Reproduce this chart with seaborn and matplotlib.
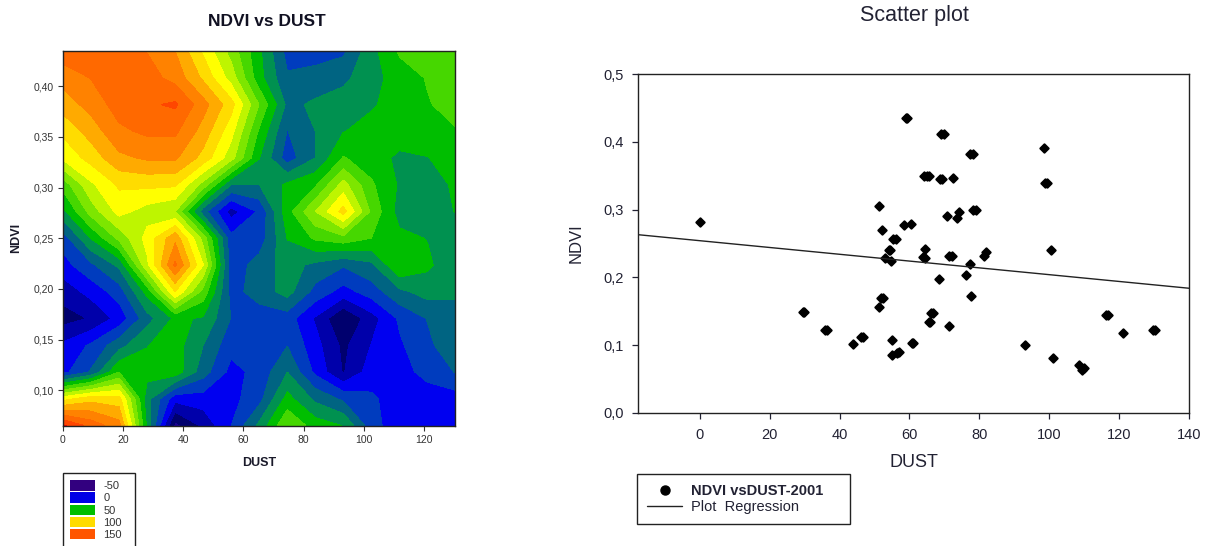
import numpy as np
import pandas as pd
import matplotlib
matplotlib.use('Agg')
import matplotlib.pyplot as plt
from matplotlib.patches import Patch
from matplotlib.lines import Line2D
import seaborn as sns

# --- Contour data, one list per NDVI row (bottom to top) ---
dust_nodes = np.linspace(0, 130.5, 15)
ndvi_nodes = np.linspace(0.0655, 0.4345, 15)
row_01 = [165, 145, 130, 35, -42, -22, 0, 28, 62, 44, 37, 5, -8, -12, -10]
row_02 = [95, 108, 105, 30, -8, -6, -4, 8, 42, 22, 10, 2, -6, -8, -6]
row_03 = [-4, 14, 50, 42, 45, 18, -4, 4, 25, -3, -26, -6, -6, 5, 13]
row_04 = [-10, 2, 20, 37, 43, 25, 4, 6, 12, -8, -28, -12, -2, 10, 20]
row_05 = [-30, -24, -8, 20, 40, 36, 12, 6, 6, -14, -38, -18, 2, 13, 20]
row_06 = [-20, -8, 6, 42, 100, 58, 8, 18, 30, 8, -5, 6, 22, 30, 27]
row_07 = [-5, 10, 28, 85, 140, 88, 5, 18, 30, 22, 14, 22, 50, 40, 28]
row_08 = [6, 38, 66, 92, 122, 70, 4, 5, 38, 52, 58, 50, 41, 37, 30]
row_09 = [34, 68, 92, 82, 75, 18, -18, 2, 45, 75, 105, 60, 32, 30, 38]
row_10 = [55, 85, 102, 103, 102, 70, 25, 25, 40, 48, 80, 52, 36, 30, 40]
row_11 = [90, 105, 122, 127, 127, 108, 80, 38, 6, 25, 51, 43, 35, 37, 44]
row_12 = [103, 118, 135, 140, 140, 120, 92, 48, 12, 25, 37, 42, 44, 46, 49]
row_13 = [118, 130, 143, 148, 152, 130, 105, 62, 22, 27, 31, 36, 43, 49, 55]
row_14 = [130, 138, 143, 143, 133, 110, 82, 42, 14, 18, 22, 33, 43, 51, 56]
row_15 = [145, 145, 145, 137, 125, 98, 70, 40, 8, 6, 10, 33, 52, 56, 58]

contour_levels = [-62.5, -50, -37.5, -25, -12.5, 0, 12.5, 25, 37.5, 50, 62.5, 75,
                  87.5, 100, 112.5, 125, 137.5, 150, 162.5, 175]
band_colors = ['#2d0082', '#1a0090', '#00006e', '#0000aa', '#0000f0', '#003cbe',
               '#006482', '#009150', '#00be00', '#46d700', '#7de600', '#bef500',
               '#ffff00', '#ffdc00', '#ffaa00', '#ff8200', '#ff6900', '#ff4600', '#ff0000']

# trailing spaces in the last label widen the box, the blank row runs off the image
legend_labels = ['-50', '0', '50', '100', '150', ' ' * 8]
legend_colors = ['#32007f', '#0000e6', '#00be00', '#ffdc00', '#ff5500', 'white']

# --- Scatter data ---
dust = [0, 29.4, 29.8, 35.7, 36.4, 43.7, 46.2, 46.8, 51.2, 51.9, 52.4, 51.2, 52.1, 54, 54.4, 53, 54.7, 55.2, 56, 55, 55,
        56.3, 57, 60.7, 61.1, 59, 59.4, 58.3, 60.5, 64.1, 65, 65.6, 68.7, 69.3, 72.5, 69, 69.9, 77.2, 78.2, 98.5,
        98.8, 99.5, 78.3, 79.1, 74.2, 73.5, 70.8, 64.4, 64, 64.3, 71.4, 72.2, 81.9, 81.4, 100.6, 77.2,
        76.3, 68.4, 77.6, 66.3, 66.8, 65.5, 66, 71.4, 93, 101, 108.5, 109.4, 109.9, 116.3, 116.9, 121, 129.7, 130.3]
ndvi = [.281, .149, .149, .123, .123, .102, .112, .112, .156, .170, .170, .305, .270, .241, .241, .228, .224, .257, .257, .107, .085,
        .088, .090, .103, .103, .435, .435, .277, .279, .349, .349, .349, .345, .345, .347, .411, .411, .382, .382, .391,
        .339, .339, .300, .300, .297, .287, .291, .242, .230, .228, .231, .231, .238, .232, .240, .220,
        .203, .197, .172, .147, .147, .134, .134, .129, .100, .081, .071, .064, .066, .144, .144, .118, .122, .122]

reg_x = [-17.7, 140]
reg_y = [0.263, 0.184]

sns.set_theme(style='ticks')
plt.rcParams['font.family'] = ['Liberation Sans', 'DejaVu Sans']

W, H = 1206, 546
fig = plt.figure(figsize=(W / 100, H / 100), dpi=100)

def add_axes_px(left, top, right, bottom):
    return fig.add_axes([left / W, 1 - bottom / H, (right - left) / W, (bottom - top) / H])

# --- Left: filled contour ---
ax1 = add_axes_px(63, 51, 455.5, 425.5)
grid = np.array([row_01, row_02, row_03, row_04, row_05, row_06, row_07, row_08,
                 row_09, row_10, row_11, row_12, row_13, row_14, row_15])
ax1.contourf(dust_nodes, ndvi_nodes, grid, levels=contour_levels, colors=band_colors)
ax1.set_xlim(0, 130.5)
ax1.set_ylim(0.0655, 0.4345)
ax1.set_xticks(range(0, 121, 20))
ax1.set_yticks([0.10, 0.15, 0.20, 0.25, 0.30, 0.35, 0.40])
ax1.set_yticklabels(['0,10', '0,15', '0,20', '0,25', '0,30', '0,35', '0,40'])
ax1.tick_params(labelsize=7.5, length=3.5, width=0.8, pad=3, colors='#333333')
ax1.set_xlabel('DUST', fontsize=9, fontweight='bold', labelpad=9, color='#1a1a2a')
ax1.set_ylabel('NDVI', fontsize=9, fontweight='bold', labelpad=8, color='#1a1a2a')
fig.text(267 / W, 1 - 21 / H, 'NDVI vs DUST', fontsize=12.5, fontweight='bold', ha='center', va='center', color='#111122')
for s in ax1.spines.values():
    s.set_visible(True)
    s.set_linewidth(1.0)
    s.set_color('#222222')

handles1 = [Patch(facecolor=c, edgecolor='none') for c in legend_colors]
fig.legend(handles1, legend_labels, loc='upper left', bbox_to_anchor=(63 / W, 1 - 473 / H),
           bbox_transform=fig.transFigure, fontsize=8, frameon=True, fancybox=False,
           edgecolor='#222222', framealpha=1, borderaxespad=0, borderpad=0.65,
           handlelength=2.25, handleheight=1.08, handletextpad=0.72, labelspacing=0.1,
           labelcolor='#333333')

# --- Right: scatter with regression line ---
ax2 = add_axes_px(638, 74, 1189, 413)
scatter_df = pd.DataFrame({'dust': dust, 'ndvi': ndvi})
sns.scatterplot(data=scatter_df, x='dust', y='ndvi', ax=ax2, marker='D', s=18,
                color='black', edgecolor='black', linewidth=1.5, joinstyle='round')
sns.lineplot(x=reg_x, y=reg_y, ax=ax2, color='#222222', linewidth=1.0)
ax2.set_xlim(-17.7, 140)
ax2.set_ylim(0, 0.5)
ax2.set_xticks(range(0, 141, 20))
ax2.set_yticks([0, 0.1, 0.2, 0.3, 0.4, 0.5])
ax2.set_yticklabels(['0,0', '0,1', '0,2', '0,3', '0,4', '0,5'])
ax2.tick_params(labelsize=10.5, length=4.5, width=0.9, pad=6, colors='#222233')
ax2.set_xlabel('DUST', fontsize=13, labelpad=9, color='#222233')
ax2.set_ylabel('NDVI', fontsize=12, color='#222233')
ax2.yaxis.set_label_coords((584 - 638) / 551, (413 - 243.5) / 339)
fig.text(914 / W, 1 - 15 / H, 'Scatter plot', fontsize=15.5, ha='center', va='center', color='#222233')
for s in ax2.spines.values():
    s.set_visible(True)
    s.set_linewidth(1.0)
    s.set_color('#222222')

handles2 = [Line2D([], [], marker='o', color='black', linestyle='none', markersize=6.5),
            Line2D([], [], color='#222222', linewidth=1.0)]
leg = fig.legend(handles2, ['NDVI vsDUST-2001    ', 'Plot  Regression'], loc='upper left',
                 bbox_to_anchor=(637 / W, 1 - 474 / H), bbox_transform=fig.transFigure,
                 fontsize=10.5, frameon=True, fancybox=False, edgecolor='#222222', framealpha=1,
                 borderaxespad=0, borderpad=0.7, handlelength=2.4, handletextpad=0.62,
                 labelspacing=0.12, labelcolor='#222233')
leg.get_texts()[0].set_fontweight('bold')
leg.get_frame().set_linewidth(1.0)

fig.savefig('out.png', dpi=100)
